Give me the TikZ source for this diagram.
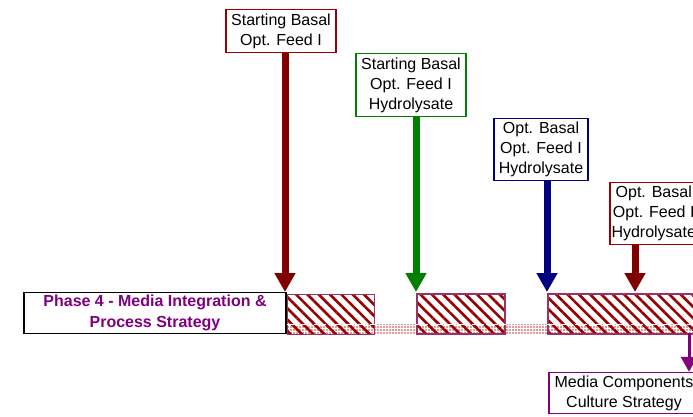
\documentclass[tikz,border=0pt]{standalone}
\usepackage{fontspec}
\setmainfont{Liberation Sans}
\usetikzlibrary{arrows.meta,patterns,patterns.meta}
\definecolor{boxred}{HTML}{990000}
\definecolor{arrred}{HTML}{800000}
\definecolor{grn}{HTML}{008000}
\definecolor{nvy}{HTML}{000080}
\definecolor{barborder}{HTML}{993366}
\definecolor{hatch}{HTML}{990000}
\definecolor{purp}{HTML}{800080}
\definecolor{dotred}{HTML}{CC3333}
\begin{document}
\begin{tikzpicture}[x=1pt,y=-1pt,
  lab/.style={draw, line width=1.5pt, fill=white, align=center, inner sep=0pt,
    font=\fontsize{16}{20}\selectfont},
  bigarr/.style={line width=7pt, -{Triangle[width=20pt,length=19pt]}},
  bar/.style={draw=barborder, line width=1.5pt, anchor=north west, minimum height=40pt, inner sep=0pt,
    pattern={Lines[angle=-45,distance=8pt,line width=2.6pt]}, pattern color=hatch}]
\clip (0,0) rectangle (693,417);
\fill[white] (0,0) rectangle (693,417);
% dotted band
\fill[pattern={Dots[distance=3pt,radius=0.8pt]}, pattern color=dotred] (286,324.5) rectangle (700,333);
% bars
\node[bar, minimum width=87pt] (b1) at (286,293) {};
\node[bar, minimum width=88pt] (b2) at (416,293) {};
\node[bar, minimum width=160pt] (b3) at (547,293) {};
\draw[white, line width=0.8pt, dash pattern=on 12pt off 2pt] (b1.west |- 0,324) -- (b1.east |- 0,324);
\draw[white, line width=0.8pt, dash pattern=on 12pt off 2pt] (b2.west |- 0,324) -- (b2.east |- 0,324);
\draw[white, line width=0.8pt, dash pattern=on 12pt off 2pt] (b3.west |- 0,324) -- (b3.east |- 0,324);
% phase box
\node[draw=black, line width=1.5pt, fill=white, minimum width=262pt, minimum height=41pt, inner sep=0pt,
  align=center, text=purp, font=\fontsize{16}{21}\selectfont\bfseries] (ph) at (155,313)
  {Phase 4 - Media Integration \&\\Process Strategy};
% label boxes
\node[lab, draw=boxred, minimum width=110pt, minimum height=43pt] (s1) at (281,31) {Starting Basal\\Opt. Feed I};
\node[lab, draw=grn, minimum width=110pt, minimum height=63pt] (s2) at (411,85) {Starting Basal\\Opt. Feed I\\Hydrolysate};
\node[lab, draw=nvy, minimum width=94pt, minimum height=62pt] (s3) at (541,149.5) {Opt. Basal\\Opt. Feed I\\Hydrolysate};
\node[lab, draw=boxred, minimum width=88pt, minimum height=62pt, anchor=west] (s4) at (609,213.5) {Opt. Basal\\Opt. Feed I\\Hydrolysate};
\node[lab, draw=purp, minimum width=150pt, minimum height=41pt] (mc) at (624,393) {Media Components\\Culture Strategy};
% arrows
\coordinate (a1) at (285,292);
\coordinate (a2) at (416,292);
\coordinate (a3) at (547,292);
\coordinate (a4) at (635,292);
\draw[bigarr, draw=arrred, fill=arrred] (s1.south -| a1) -- (a1);
\draw[bigarr, draw=grn, fill=grn] (s2.south -| a2) -- (a2);
\draw[bigarr, draw=nvy, fill=nvy] (s3.south -| a3) -- (a3);
\draw[bigarr, draw=arrred, fill=arrred] (s4.south -| a4) -- (a4);
\coordinate (p1) at (689,333);
\draw[line width=3pt, draw=purp, -{Triangle[width=16pt,length=15pt]}] (p1) -- (mc.north -| p1);
\end{tikzpicture}
\end{document}
